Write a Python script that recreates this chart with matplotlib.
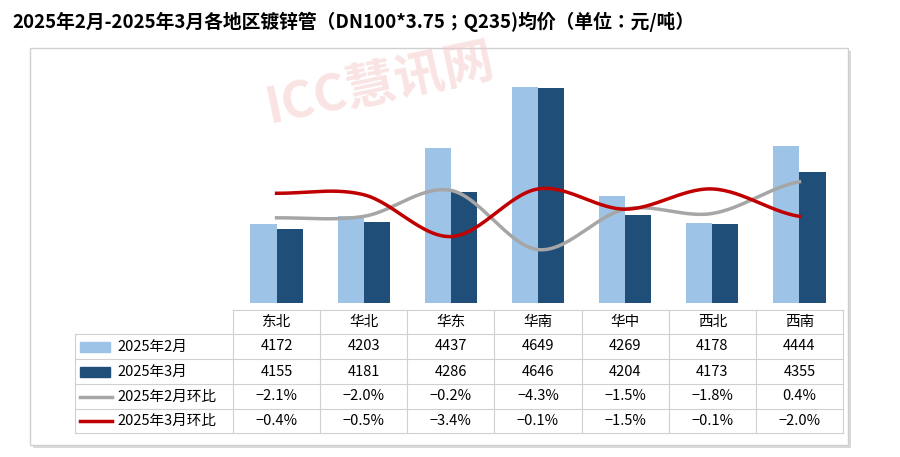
import glob
import numpy as np
import matplotlib
matplotlib.use("Agg")
import matplotlib.pyplot as plt
from matplotlib import font_manager as fm
from matplotlib.patches import Rectangle
from matplotlib.lines import Line2D

cjk = None
for f in glob.glob("/usr/share/fonts/**/*CJK*", recursive=True) + glob.glob("/usr/local/share/fonts/**/*CJK*", recursive=True):
    try:
        fm.fontManager.addfont(f)
    except Exception:
        pass
names = [f.name for f in fm.fontManager.ttflist if "CJK" in f.name]
for pref in ["Noto Sans CJK SC", "Noto Sans CJK JP"]:
    if pref in names:
        cjk = pref; break
if cjk is None and names:
    cjk = names[0]
plt.rcParams['font.family'] = [cjk or 'Noto Sans CJK SC', 'DejaVu Sans']

title = "2025年2月-2025年3月各地区镀锌管（DN100*3.75；Q235)均价（单位：元/吨）"
categories = ["东北", "华北", "华东", "华南", "华中", "西北", "西南"]
feb = [4172, 4203, 4437, 4649, 4269, 4178, 4444]
mar = [4155, 4181, 4286, 4646, 4204, 4173, 4355]
feb_mom = [-2.1, -2.0, -0.2, -4.3, -1.5, -1.8, 0.4]
mar_mom = [-0.4, -0.5, -3.4, -0.1, -1.5, -0.1, -2.0]
series_names = ["2025年2月", "2025年3月", "2025年2月环比", "2025年3月环比"]

c_feb, c_mar, c_gray, c_red = "#9dc3e6", "#1f4e79", "#a6a6a6", "#c00000"

def smooth(y, n=30):
    y = np.asarray(y, float)
    p = np.concatenate([[y[0]], y, [y[-1]]])
    xs, ys = [], []
    for i in range(len(y) - 1):
        p0, p1, p2, p3 = p[i], p[i+1], p[i+2], p[i+3]
        t = np.linspace(0, 1, n, endpoint=False)
        v = 0.5*((2*p1) + (-p0+p2)*t + (2*p0-5*p1+4*p2-p3)*t**2 + (-p0+3*p1-3*p2+p3)*t**3)
        xs.append(i + t); ys.append(v)
    xs.append([len(y)-1]); ys.append([y[-1]])
    return np.concatenate(xs), np.concatenate(ys)

fig = plt.figure(figsize=(9, 4.57), dpi=100)
W, H = 900, 457
ov = fig.add_axes([0, 0, 1, 1], zorder=0)
ov.set_xlim(0, W); ov.set_ylim(H, 0); ov.axis('off')
ov.add_patch(Rectangle((33, 51), 818, 397, facecolor="#d9d9d9", edgecolor="none"))
ov.add_patch(Rectangle((30, 48), 818, 397, facecolor="white", edgecolor="#d0d0d0", lw=1))
ov.text(12, 22, title, fontsize=13.5, fontweight='bold', va='center', ha='left')
for (x, y, s) in [(380, 85, 36)]:
    ov.text(x, y, "ICC慧讯网", fontsize=s, color="#f4c7c7", alpha=0.5,
            rotation=12, ha='center', va='center', fontweight='bold')

x0, x1, ytop, ybot = 233, 843, 72, 303
ax = fig.add_axes([x0/W, 1-ybot/H, (x1-x0)/W, (ybot-ytop)/H], zorder=2)
ax.patch.set_alpha(0)
x = np.arange(len(categories))
w = 0.3
ax.bar(x - w/2, feb, w, color=c_feb)
ax.bar(x + w/2, mar, w, color=c_mar)
ax.set_xlim(-0.5, len(categories) - 0.5)
ax.set_ylim(3900, 4700)
ax.axis('off')
ax2 = ax.twinx()
ax2.set_ylim(-8, 8)
sx, sy = smooth(feb_mom); ax2.plot(sx, sy, color=c_gray, lw=2.5)
sx, sy = smooth(mar_mom); ax2.plot(sx, sy, color=c_red, lw=2.5)
ax2.axis('off')

cw = (x1 - x0) / len(categories)
rows_y = [310, 334, 359, 384, 409, 433]
lc = "#d0d0d0"
for i, yy in enumerate(rows_y):
    ov.add_line(Line2D([x0 if i == 0 else 75, x1], [yy, yy], color=lc, lw=0.8))
for j in range(len(categories) + 1):
    ov.add_line(Line2D([x0 + j*cw]*2, [rows_y[0], rows_y[-1]], color=lc, lw=0.8))
ov.add_line(Line2D([75, 75], [rows_y[1], rows_y[-1]], color=lc, lw=0.8))
for j, c in enumerate(categories):
    ov.text(x0 + (j+.5)*cw, (rows_y[0]+rows_y[1])/2, c, ha='center', va='center', fontsize=10.5)
data_rows = [[str(v) for v in feb], [str(v) for v in mar],
             [f"{v:.1f}%".replace("-", "−") for v in feb_mom],
             [f"{v:.1f}%".replace("-", "−") for v in mar_mom]]
for r in range(4):
    yc = (rows_y[r+1] + rows_y[r+2]) / 2
    if r < 2:
        ov.add_patch(Rectangle((80, yc-5), 30, 10, color=[c_feb, c_mar][r]))
    else:
        ov.add_line(Line2D([80, 112], [yc, yc], color=[c_gray, c_red][r-2], lw=2.5))
    ov.text(117, yc, series_names[r], ha='left', va='center', fontsize=10.5)
    for j, s in enumerate(data_rows[r]):
        ov.text(x0 + (j+.5)*cw, yc, s, ha='center', va='center', fontsize=10.5)

fig.savefig("out.png", dpi=100)
